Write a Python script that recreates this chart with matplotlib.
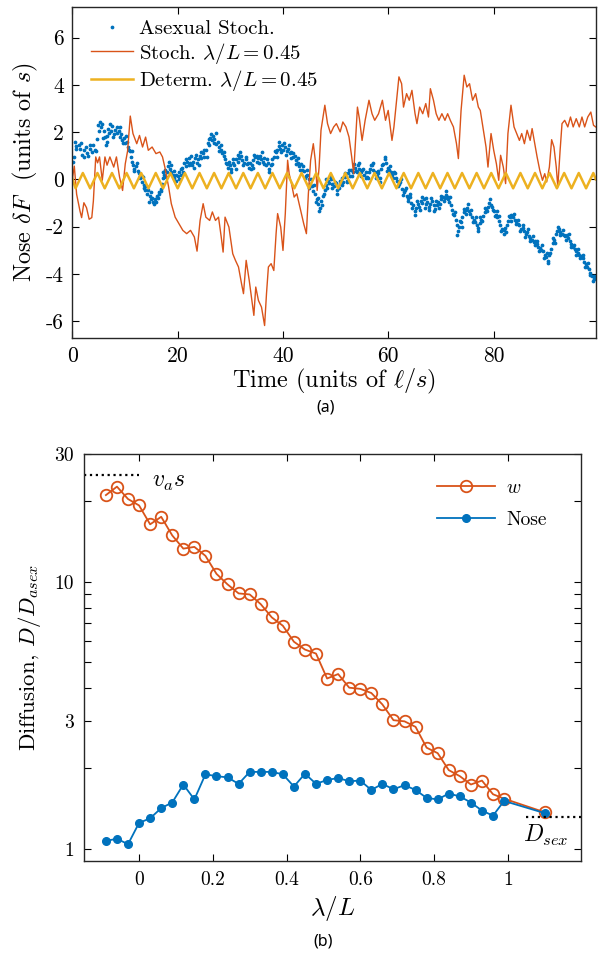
import numpy as np
import matplotlib
matplotlib.use("Agg")
import matplotlib.pyplot as plt
from matplotlib.ticker import FixedLocator, NullFormatter, FixedFormatter

plt.rcParams['font.family'] = 'serif'
plt.rcParams['font.serif'] = ['cmr10']
plt.rcParams['mathtext.fontset'] = 'cm'
plt.rcParams['axes.unicode_minus'] = False
plt.rcParams['axes.formatter.use_mathtext'] = True

BLUE = '#0072BD'
RED = '#D95319'
YELLOW = '#EDB120'

# ---- panel (a): nose trajectories ----
# stochastic run, lambda/L = 0.45  (time, nose)
stoch = [(0.0, 0.0), (0.38, 0.56), (0.82, -0.63), (1.46, -1.34), (1.77, -1.62), (2.2, -0.99), (2.7, -1.2),
         (3.2, -1.69), (3.7, -1.62), (4.0, -0.92), (4.2, -0.07), (4.45, 0.95), (4.8, 0.7), (5.17, 0.95),
         (5.69, -0.04), (6.2, 0.95), (6.6, 0.6), (7.14, 0.95), (7.87, 0.52), (8.38, 0.95), (8.97, 0.10),
         (9.55, -0.47), (10.06, 0.66), (10.5, 1.2), (11.01, 2.68), (11.52, 1.94), (12.24, 1.51), (12.76, 1.86),
         (13.34, 1.37), (13.92, 1.79), (14.43, 1.23), (15.16, 1.37), (15.89, 1.09), (16.62, 1.16), (17.13, 0.95),
         (17.57, 0.52), (18.29, -0.32), (18.80, -1.03), (19.53, -1.60), (20.26, -1.88), (20.99, -2.16),
         (21.72, -2.30), (22.45, -2.16), (23.18, -2.44), (23.69, -3.04), (24.27, -1.74), (24.85, -1.03),
         (25.36, -1.60), (26.09, -1.74), (26.60, -1.38), (27.19, -1.74), (27.77, -1.60), (28.28, -2.44),
         (28.64, -3.08), (29.01, -1.60), (29.74, -2.02), (30.47, -3.15), (30.98, -3.43), (31.56, -3.71),
         (32.14, -4.42), (32.51, -4.84), (33.02, -3.43), (33.60, -4.28), (34.11, -5.13), (34.48, -5.76),
         (34.84, -4.56), (35.35, -5.13), (35.93, -5.41), (36.52, -6.19), (36.88, -4.84), (37.24, -3.71),
         (37.76, -3.57), (38.27, -3.86), (38.70, -2.30), (38.99, -1.45), (39.58, -2.02), (40.01, -3.01),
         (40.45, -1.45), (40.89, 0.81), (41.18, 0.24), (41.62, -0.18), (42.13, -0.75), (42.64, -0.61),
         (43.22, -1.17), (43.95, -1.88), (44.46, -2.30), (44.83, -0.61), (45.26, 0.81), (45.77, 1.51),
         (46.14, 0.81), (46.50, -0.47), (46.87, 0.52), (47.23, 2.08), (47.96, 3.14), (48.47, 2.36),
         (49.05, 1.94), (49.64, 2.22), (50.15, 2.36), (50.87, 2.01), (51.38, 2.43), (51.97, 2.22),
         (52.55, 1.79), (53.06, 0.95), (53.43, 0.24), (53.79, 1.65), (54.15, 3.06), (54.52, 2.57),
         (55.03, 1.65), (55.61, 2.50), (56.34, 3.35), (56.92, 2.78), (57.43, 2.50), (58.16, 2.78),
         (58.89, 3.35), (59.48, 2.50), (59.99, 2.92), (60.71, 1.65), (61.08, 2.22), (61.59, 3.35),
         (62.03, 4.34), (62.54, 4.05), (62.90, 3.06), (63.48, 3.63), (63.99, 3.35), (64.50, 3.77),
         (65.09, 2.78), (65.45, 2.36), (65.96, 3.06), (66.55, 2.78), (67.13, 3.21), (67.64, 2.64),
         (68.00, 3.84), (68.59, 3.35), (69.10, 2.78), (69.61, 2.50), (70.19, 2.78), (70.77, 2.50),
         (71.28, 2.78), (71.79, 2.50), (72.38, 2.22), (72.96, 1.51), (73.32, 0.88), (73.83, 2.92),
         (74.42, 4.41), (74.93, 3.91), (75.44, 4.05), (76.02, 3.35), (76.60, 3.63), (77.11, 3.06),
         (77.48, 2.92), (78.06, 2.08), (78.57, 1.37), (78.94, 0.52), (79.52, 1.94), (80.03, 1.23),
         (80.54, 0.66), (80.98, -0.04), (81.34, 1.02), (81.85, 0.52), (82.29, -0.18), (82.73, 1.94),
         (83.31, 3.14), (83.89, 2.22), (84.40, 1.94), (84.91, 1.65), (85.35, 1.94), (85.86, 1.51),
         (86.37, 2.08), (86.95, 1.65), (87.32, 2.15), (87.83, 1.51), (88.27, 0.95), (88.78, 0.38),
         (89.29, -0.04), (89.72, 0.24), (90.09, -0.11), (90.60, 0.52), (91.03, 1.68), (91.47, 1.37),
         (91.91, 0.52), (92.20, -0.32), (92.64, 1.23), (93.00, 2.36), (93.51, 2.50), (94.10, 2.22),
         (94.61, 2.64), (95.12, 2.22), (95.70, 2.57), (96.28, 2.22), (96.79, 2.64), (97.30, 2.22),
         (97.89, 2.64), (98.47, 2.85), (98.98, 2.29), (99.4, 2.22)]

# deterministic run: turning points of the oscillation
det_t = [0, 0.62, 2.00, 3.39, 4.77, 6.16, 7.54, 8.93, 10.31, 11.70, 13.08, 14.47, 15.85, 17.24, 18.62,
         20.01, 21.39, 22.78, 24.16, 25.55, 26.93, 28.32, 29.70, 31.09, 32.47, 33.86, 35.24, 36.63, 38.01,
         39.40, 40.78, 42.17, 43.55, 44.94, 46.32, 47.71, 49.09, 50.48, 51.86, 53.25, 54.63, 56.02, 57.40,
         58.79, 60.17, 61.56, 62.94, 64.33, 65.71, 67.10, 68.48, 69.87, 71.25, 72.64, 74.02, 75.41, 76.79,
         78.18, 79.56, 80.95, 82.33, 83.72, 85.10, 86.49, 87.87, 89.26, 90.64, 92.03, 93.41, 94.80, 96.18,
         97.57, 98.95, 99.4]
det_v = [0.05] + [-0.38, 0.27] * 36 + [0.0]

# asexual stochastic run (dots)
asex_a = [(0.1, 0.75), (0.3, 0.95), (0.5, 1.58), (0.7, 1.4), (1.2, 1.45), (1.5, 1.3), (1.9, 1.05), (2.2, 1.25),
          (2.6, 1.35), (2.8, 1.1), (3.0, 1.0), (3.3, 1.3), (3.7, 1.15), (4.0, 1.45), (4.3, 1.25), (4.6, 1.7),
          (4.9, 2.3), (5.1, 2.05), (5.4, 2.2), (5.7, 2.35), (6.0, 2.05), (6.2, 1.8), (6.4, 1.45), (6.6, 1.6),
          (6.8, 2.15), (7.0, 1.95), (7.3, 2.05), (7.6, 2.25), (7.9, 1.9), (8.2, 2.1), (8.5, 1.95), (8.8, 2.05),
          (9.0, 1.8), (9.3, 1.9), (9.5, 1.65), (9.8, 1.75), (10.1, 1.55), (10.3, 1.6), (10.6, 1.35), (10.9, 1.2),
          (11.2, 0.95), (11.4, 0.75), (11.6, 0.6), (11.8, 0.45), (12.1, 0.55), (12.4, 0.35), (12.7, 0.25),
          (12.9, 0.05), (13.2, -0.1), (13.4, 0.1), (13.7, -0.25), (13.9, -0.45), (14.2, -0.6), (14.4, -0.45),
          (14.7, -0.7), (14.9, -0.85), (15.2, -0.8), (15.4, -0.95), (15.7, -0.85), (16.0, -0.7), (16.3, -0.8),
          (16.5, -0.6), (16.8, -0.4), (17.0, -0.2), (17.2, 0.05), (17.4, 0.2), (17.6, 0.4), (17.9, 0.3),
          (18.2, 0.55), (18.5, 0.45), (18.8, 0.3), (19.1, 0.2), (19.4, 0.05), (19.7, 0.2), (20.0, 0.15),
          (20.3, 0.3), (20.6, 0.45), (20.9, 0.5), (21.2, 0.7), (21.5, 0.55), (21.8, 0.75), (22.1, 0.9),
          (22.4, 0.7), (22.7, 0.6), (23.0, 0.75), (23.3, 0.9), (23.6, 0.7), (23.9, 0.85), (24.2, 1.0),
          (24.5, 0.9), (24.8, 1.1), (25.1, 0.95), (25.4, 1.25), (25.7, 1.55), (26.0, 1.45), (26.2, 1.75),
          (26.5, 1.65), (26.8, 1.85), (27.0, 1.7), (27.3, 1.5), (27.6, 1.6), (27.9, 1.35), (28.2, 1.25),
          (28.5, 1.1), (28.8, 1.0), (29.0, 0.85), (29.3, 0.65), (29.6, 0.5), (29.9, 0.6), (30.2, 0.45),
          (30.5, 0.7), (30.8, 0.6), (31.1, 0.85), (31.4, 0.75), (31.7, 0.9), (32.0, 1.0), (32.3, 0.8),
          (32.6, 0.7), (32.9, 0.85), (33.2, 0.65), (33.5, 0.5), (33.8, 0.7), (34.1, 0.6), (34.4, 0.8),
          (34.7, 0.95), (35.0, 0.75), (35.3, 0.9), (35.6, 1.0), (35.9, 0.85), (36.2, 0.75), (36.5, 0.9),
          (36.8, 0.6), (37.1, 0.7), (37.4, 0.45), (37.7, 0.6), (38.0, 0.85), (38.3, 0.95), (38.6, 1.15),
          (38.9, 1.25), (39.2, 1.4), (39.5, 1.3), (39.8, 1.45), (40.1, 1.25), (40.4, 1.35), (40.7, 1.2),
          (41.0, 1.3), (41.3, 1.1), (41.6, 1.15), (41.9, 0.95), (42.2, 1.0), (42.5, 0.8), (42.8, 0.7),
          (43.1, 0.55), (43.4, 0.65), (43.7, 0.4), (44.0, 0.35), (44.3, 0.15), (44.6, 0.2), (44.9, 0.0),
          (45.2, -0.2), (45.5, -0.3), (45.8, -0.5), (46.1, -0.6), (46.4, -0.85), (46.7, -1.05), (47.0, -1.2),
          (47.3, -0.9), (47.6, -0.7), (47.9, -0.45), (48.2, -0.25), (48.5, -0.05), (48.8, -0.15), (49.1, 0.0),
          (49.4, -0.2), (49.7, -0.3), (50.0, -0.15), (50.3, -0.45), (50.6, -0.35), (50.9, -0.2), (51.2, 0.05),
          (51.5, -0.1), (51.8, 0.1), (52.1, -0.05), (52.4, 0.25), (52.7, 0.15), (53.0, 0.4), (53.3, 0.3),
          (53.6, 0.5), (53.9, 0.35), (54.2, 0.6), (54.5, 0.45), (54.8, 0.3), (55.1, 0.4), (55.4, 0.2),
          (55.7, 0.3), (56.0, 0.1), (56.3, 0.3), (56.6, 0.45), (56.9, 0.6), (57.2, 0.4), (57.5, 0.3),
          (57.8, 0.15), (58.1, 0.25), (58.4, 0.05), (58.7, 0.45), (59.0, 0.65), (59.3, 0.85), (59.6, 0.7),
          (59.9, 0.5), (60.2, 0.4), (60.5, 0.3), (60.8, 0.2), (61.1, 0.3), (61.4, 0.05), (61.7, -0.05),
          (62.0, -0.2), (62.3, -0.1), (62.6, -0.4), (62.9, -0.55), (63.2, -0.45), (63.5, -0.7), (63.8, -0.8),
          (64.1, -0.75), (64.4, -1.0), (64.7, -1.1), (65.0, -1.35), (65.3, -1.2), (65.6, -1.05), (65.9, -1.15),
          (66.2, -0.9), (66.5, -1.0), (66.8, -0.85), (67.1, -1.05), (67.4, -0.95), (67.7, -1.15), (68.0, -1.05),
          (68.3, -0.9), (68.6, -1.1), (68.9, -1.25), (69.2, -1.1), (69.5, -0.95), (69.8, -1.05), (70.1, -0.85),
          (70.4, -0.75), (70.7, -0.8), (71.0, -0.65), (71.3, -0.75), (71.6, -0.95), (71.9, -1.1), (72.2, -1.3),
          (72.5, -1.5), (72.8, -1.7), (73.0, -1.95), (73.2, -2.2), (73.5, -2.0), (73.8, -1.8), (74.1, -1.6),
          (74.4, -1.4), (74.7, -1.3), (75.0, -1.2), (75.3, -1.35), (75.6, -1.45), (75.9, -1.6), (76.2, -1.7),
          (76.5, -1.8), (76.8, -1.95), (77.1, -2.05), (77.4, -1.85), (77.7, -1.7), (78.0, -1.55), (78.3, -1.4),
          (78.6, -1.25), (78.9, -1.15), (79.2, -1.0), (79.5, -1.1), (79.8, -1.3), (80.1, -1.35), (80.4, -1.5),
          (80.7, -1.6), (81.0, -1.75), (81.3, -1.95), (81.6, -2.1), (81.9, -2.3), (82.2, -2.05), (82.5, -1.95),
          (82.8, -1.75), (83.1, -1.6), (83.4, -1.5), (83.7, -1.6), (84.0, -1.7), (84.3, -1.75), (84.6, -1.9),
          (84.9, -1.95), (85.2, -2.1), (85.5, -2.05), (85.8, -2.2), (86.1, -2.3), (86.4, -2.25), (86.7, -2.4),
          (87.0, -2.5), (87.3, -2.55), (87.6, -2.65), (87.9, -2.6), (88.2, -2.75), (88.5, -2.85), (88.8, -2.9),
          (89.1, -3.0), (89.4, -3.05), (89.7, -3.2), (90.0, -3.3), (90.3, -3.45), (90.6, -3.2), (90.9, -2.95),
          (91.2, -2.7), (91.5, -2.55), (91.8, -2.3), (92.1, -2.2), (92.4, -2.1), (92.7, -2.25), (93.0, -2.3),
          (93.3, -2.35), (93.6, -2.4), (93.9, -2.35), (94.2, -2.5), (94.5, -2.6), (94.8, -2.75), (95.1, -2.85),
          (95.4, -2.95), (95.7, -3.05), (96.0, -3.1), (96.3, -3.2), (96.6, -3.25), (96.9, -3.35), (97.2, -3.5),
          (97.5, -3.6), (97.8, -3.7), (98.1, -3.8), (98.4, -3.95), (98.7, -4.1), (99.0, -4.2), (99.2, -4.15)]

asex_b = [(0.75, 1.3), (1.6, 1.55), (2.3, 0.95), (3.4, 1.45), (4.5, 1.2), (5.3, 2.45), (5.9, 1.75), (6.6, 1.85),
          (7.2, 2.35), (7.7, 1.8), (8.4, 2.2), (9.1, 2.2), (9.7, 1.55), (10.2, 1.85), (10.7, 1.25), (11.3, 1.2),
          (11.7, 0.35), (12.3, 0.7), (12.8, 0.15), (13.3, 0.15), (13.6, -0.35), (14.0, -0.3), (14.5, -0.95),
          (15.0, -0.55), (15.5, -1.05), (15.9, -0.95), (16.4, -0.55), (16.9, -0.5), (17.3, 0.3), (17.8, 0.1),
          (18.3, 0.75), (18.7, 0.6), (19.3, 0.35), (19.6, -0.05), (20.2, 0.0), (20.7, 0.2), (21.0, 0.3),
          (21.6, 0.85), (22.2, 0.6), (22.5, 1.0), (23.1, 0.5), (23.5, 1.05), (24.0, 0.6), (24.4, 1.15),
          (25.0, 1.25), (25.5, 0.95), (25.9, 1.7), (26.4, 1.9), (26.9, 1.55), (27.2, 1.95), (27.8, 1.2),
          (28.3, 1.45), (28.9, 1.15), (29.2, 0.7), (29.7, 0.75), (30.1, 0.3), (30.6, 0.85), (31.0, 0.45),
          (31.5, 1.05), (31.9, 1.15), (32.5, 0.6), (33.0, 0.95), (33.4, 0.7), (33.9, 0.45), (34.3, 0.5),
          (34.6, 1.05), (35.1, 1.0), (35.5, 0.7), (36.0, 1.15), (36.4, 0.65), (36.9, 0.85), (37.3, 0.3),
          (37.9, 0.65), (38.4, 1.2), (38.8, 0.95), (39.3, 1.6), (39.7, 1.15), (40.2, 1.55), (40.6, 1.05),
          (41.1, 1.45), (41.5, 0.9), (42.0, 1.1), (42.4, 0.65), (42.9, 0.9), (43.3, 0.4), (43.8, 0.55),
          (44.1, 0.05), (44.5, 0.4), (45.0, -0.35), (45.4, 0.0), (45.9, -0.25), (46.2, -0.95), (46.6, -0.8),
          (46.9, -1.35), (47.4, -1.1), (47.8, -0.6), (48.1, 0.0), (48.4, -0.35), (48.9, 0.1), (49.3, -0.35),
          (49.9, -0.1), (50.2, -0.6), (50.8, -0.05), (51.3, -0.25), (51.7, 0.25), (52.2, -0.1), (52.6, 0.4),
          (53.1, 0.15), (53.5, 0.65), (54.0, 0.3), (54.4, 0.7), (54.9, 0.15), (55.3, 0.45), (55.8, 0.05),
          (56.2, 0.05), (56.7, 0.6), (57.1, 0.7), (57.6, 0.05), (58.0, 0.35), (58.5, -0.1), (58.9, 0.6),
          (59.4, 0.95), (59.8, 0.35), (60.4, 0.55), (60.9, 0.05), (61.3, 0.25), (61.9, -0.3), (62.4, 0.0),
          (62.8, -0.65), (63.3, -0.35), (63.7, -0.9), (64.2, -0.6), (64.6, -1.2), (65.1, -1.5), (65.5, -0.9),
          (66.0, -1.3), (66.4, -0.75), (66.9, -1.2), (67.2, -0.8), (67.8, -1.3), (68.2, -0.8), (68.7, -1.35),
          (69.1, -0.9), (69.6, -1.2), (70.0, -0.7), (70.5, -0.9), (70.9, -0.5), (71.4, -0.85), (71.8, -0.75),
          (72.3, -1.45), (72.7, -1.4), (73.1, -2.35), (73.6, -1.75), (74.0, -2.0), (74.3, -1.25), (74.8, -1.45),
          (75.2, -1.05), (75.7, -1.3), (76.1, -1.8), (76.6, -1.6), (77.0, -2.2), (77.5, -1.6), (77.9, -1.75),
          (78.4, -1.2), (78.8, -1.35), (79.3, -0.85), (79.7, -1.15), (80.2, -1.55), (80.6, -1.35), (81.1, -1.55),
          (81.5, -2.2), (82.0, -2.15), (82.4, -2.25), (82.9, -1.55), (83.3, -1.75), (83.8, -1.45), (84.2, -1.9),
          (84.7, -1.7), (85.1, -2.2), (85.6, -1.95), (86.0, -2.45), (86.5, -2.1), (86.9, -2.6), (87.4, -2.4),
          (87.8, -2.8), (88.3, -2.6), (88.7, -3.05), (89.2, -2.8), (89.6, -3.35), (90.1, -3.1), (90.4, -3.55),
          (90.8, -3.1), (91.3, -2.5), (91.7, -2.7), (92.2, -2.0), (92.6, -2.35), (93.2, -2.15), (93.8, -2.55),
          (94.3, -2.3), (94.7, -2.85), (95.2, -2.8), (95.6, -3.2), (96.1, -2.95), (96.5, -3.35), (97.0, -3.2),
          (97.4, -3.7), (97.9, -3.55), (98.3, -4.05), (98.8, -4.3), (99.1, -4.1)]

# ---- panel (b): diffusion vs lambda/L ----
lam = [-0.09, -0.06, -0.03, 0.0, 0.03, 0.06, 0.09, 0.12, 0.15, 0.18, 0.21, 0.24, 0.27, 0.30, 0.33, 0.36,
       0.39, 0.42, 0.45, 0.48, 0.51, 0.54, 0.57, 0.60, 0.63, 0.66, 0.69, 0.72, 0.75, 0.78, 0.81, 0.84,
       0.87, 0.90, 0.93, 0.96, 0.99, 1.1]
D_w = [21.1, 22.7, 20.4, 19.3, 16.4, 17.5, 14.9, 13.3, 13.5, 12.5, 10.7, 9.77, 9.04, 8.96, 8.24, 7.35,
       6.84, 5.96, 5.57, 5.38, 4.34, 4.51, 4.01, 3.97, 3.83, 3.47, 3.03, 3.00, 2.86, 2.39, 2.28, 1.97,
       1.87, 1.74, 1.80, 1.60, 1.54, 1.37]
D_nose = [1.07, 1.09, 1.04, 1.25, 1.30, 1.42, 1.49, 1.74, 1.53, 1.90, 1.87, 1.85, 1.75, 1.94, 1.94, 1.94,
          1.90, 1.71, 1.91, 1.75, 1.81, 1.84, 1.79, 1.80, 1.66, 1.75, 1.67, 1.73, 1.66, 1.55, 1.53, 1.61,
          1.57, 1.49, 1.39, 1.33, 1.51, 1.36]
va_s = 25.0
D_sex = 1.315

fig = plt.figure(figsize=(6.01, 9.56), dpi=100)

# ----- top -----
ax1 = fig.add_axes([0.1203, 0.6464, 0.8709, 0.3463])
at = np.array(asex_a + asex_b)
ax1.plot(at[:, 0], at[:, 1], '.', color=BLUE, ms=3.4, label='Asexual Stoch.')
st = np.array(stoch)
ax1.plot(st[:, 0], st[:, 1], '-', color=RED, lw=1.0, label=r'Stoch. $\lambda/L=0.45$')
ax1.plot(det_t, det_v, '-', color=YELLOW, lw=1.8, label=r'Determ. $\lambda/L=0.45$')
ax1.set_xlim(0, 99.4)
ax1.set_ylim(-6.72, 7.3)
ax1.xaxis.set_major_locator(FixedLocator([0, 20, 40, 60, 80]))
ax1.xaxis.set_major_formatter(FixedFormatter(['0', '20', '40', '60', '80']))
ax1.yaxis.set_major_locator(FixedLocator([-6, -4, -2, 0, 2, 4, 6]))
ax1.yaxis.set_major_formatter(FixedFormatter(['-6', '-4', '-2', '0', '2', '4', '6']))
ax1.tick_params(direction='in', length=5, width=0.8, top=True, right=True, labelsize=15.5, pad=6)
ax1.set_xlabel(r'Time (units of $\ell/s$)', fontsize=17.5, labelpad=1)
ax1.set_ylabel(r'Nose $\delta F$  (units of $s$)', fontsize=17.5, labelpad=4)
leg1 = ax1.legend(loc='upper left', bbox_to_anchor=(0.036, 0.962), frameon=False, fontsize=15,
                  borderpad=0, borderaxespad=0, handlelength=2.0, handletextpad=0.3, labelspacing=0.12,
                  markerscale=1.0)
for s in ax1.spines.values():
    s.set_linewidth(1.0)
    s.set_color('#262626')
fig.text(0.5425, 1 - 408 / 956, '(a)', family='Noto Sans', fontsize=11.5, ha='center', va='center')

# ----- bottom -----
ax2 = fig.add_axes([0.1394, 0.0994, 0.8281, 0.4254])
ax2.plot(lam, D_w, '-o', color=RED, lw=1.3, ms=8.3, mfc='none', mew=1.3, label=r'$w$')
ax2.plot(lam, D_nose, '-o', color=BLUE, lw=1.3, ms=5.5, mfc=BLUE, mec=BLUE, label='Nose')
ax2.set_yscale('log')
ax2.set_xlim(-0.15, 1.2)
ax2.set_ylim(0.9, 30)
ax2.plot([-0.15, 0.0], [va_s, va_s], ':', color='k', lw=1.6)
ax2.plot([1.05, 1.2], [D_sex, D_sex], ':', color='k', lw=1.6)
ax2.text(0.035, 23.6, r'$v_a s$', fontsize=17, ha='left', va='center')
ax2.text(1.042, 1.12, r'$D_{sex}$', fontsize=17, ha='left', va='center')
ax2.xaxis.set_major_locator(FixedLocator([0, 0.2, 0.4, 0.6, 0.8, 1.0]))
ax2.xaxis.set_major_formatter(FixedFormatter(['0', '0.2', '0.4', '0.6', '0.8', '1']))
ax2.yaxis.set_major_locator(FixedLocator([1, 3, 10, 30]))
ax2.yaxis.set_major_formatter(FixedFormatter(['1', '3', '10', '30']))
ax2.yaxis.set_minor_locator(FixedLocator([2, 4, 5, 6, 7, 8, 9, 20]))
ax2.yaxis.set_minor_formatter(NullFormatter())
ax2.tick_params(which='both', direction='in', length=5, width=0.8, top=True, right=True,
                labelsize=14, pad=7)
ax2.set_xlabel(r'$\lambda/L$', fontsize=18, labelpad=4)
ax2.set_ylabel(r'Diffusion, $D/D_{asex}$', fontsize=16.5, labelpad=8)
ax2.legend(loc='upper left', bbox_to_anchor=(0.7097, 0.94), frameon=False, fontsize=14,
           borderpad=0, borderaxespad=0, handlelength=3.0, handletextpad=0.55, labelspacing=0.75)
for s in ax2.spines.values():
    s.set_linewidth(1.0)
    s.set_color('#262626')
fig.text(0.5374, 1 - 942 / 956, '(b)', family='Noto Sans', fontsize=11.5, ha='center', va='center')

fig.savefig('out.png', dpi=100)
